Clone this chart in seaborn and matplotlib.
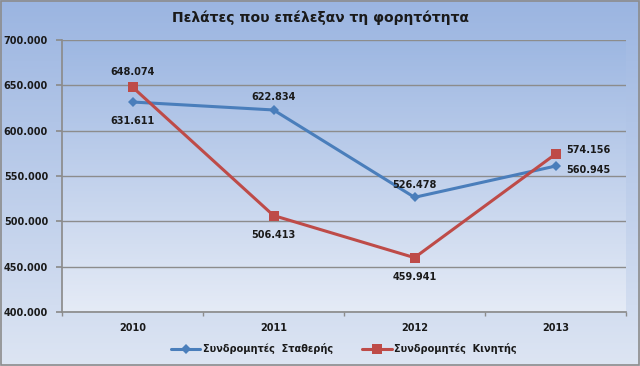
import numpy as np
import pandas as pd
import matplotlib
matplotlib.use("Agg")
import matplotlib.pyplot as plt
from matplotlib.ticker import FuncFormatter, FixedLocator
import seaborn as sns

years = ["2010", "2011", "2012", "2013"]
fixed = [631611, 622834, 526478, 560945]
mobile = [648074, 506413, 459941, 574156]
series_names = ["Συνδρομητές  Σταθερής", "Συνδρομητές  Κινητής"]
title = "Πελάτες που επέλεξαν τη φορητότητα"

df = pd.DataFrame({
    "year": years * 2,
    "value": fixed + mobile,
    "series": [series_names[0]] * 4 + [series_names[1]] * 4,
})

sns.set_theme(style="white")
plt.rcParams['font.family'] = ['DejaVu Sans']

fig = plt.figure(figsize=(6.4, 3.66), dpi=100)

def gradient(top_hex, bot_hex):
    top = np.array([int(top_hex[i:i+2], 16) for i in (1, 3, 5)]) / 255
    bot = np.array([int(bot_hex[i:i+2], 16) for i in (1, 3, 5)]) / 255
    t = np.linspace(0, 1, 256)[:, None]
    return (top[None, :] * (1 - t) + bot[None, :] * t)[:, None, :]

# gradient background over whole figure
bg = fig.add_axes([0, 0, 1, 1], zorder=-10)
bg.imshow(gradient("#9bb5e1", "#dde5f3"), aspect="auto", extent=[0, 1, 0, 1])
bg.set_axis_off()
fig.patches.append(plt.Rectangle((0.001, 0.002), 0.997, 0.995, transform=fig.transFigure,
                                 fill=False, edgecolor="#8c8c8c", linewidth=1.2))

ax = fig.add_axes([62/640, 1 - 312/366, (626-62)/640, (312-40)/366])
ax.patch.set_alpha(0)
ax.imshow(gradient("#9db7e2", "#e5ebf6"), aspect="auto", extent=[0, 1, 0, 1],
          transform=ax.transAxes, zorder=-5)

palette = {series_names[0]: "#4a7ebb", series_names[1]: "#be4b48"}
sns.lineplot(data=df, x="year", y="value", hue="series", style="series",
             markers={series_names[0]: "D", series_names[1]: "s"},
             dashes=False, palette=palette, linewidth=2.2, ax=ax,
             markersize=6, markeredgewidth=0, legend=True, sort=False)
for line in ax.lines:
    if line.get_marker() == "D":
        line.set_markersize(5)
    elif line.get_marker() == "s":
        line.set_markersize(7)

ax.set_ylim(400000, 700000)
ax.set_xlim(-0.5, 3.5)
ax.set_yticks(np.arange(400000, 700001, 50000))
ax.yaxis.set_major_formatter(FuncFormatter(lambda v, p: f"{int(v):,}".replace(",", ".")))
ax.xaxis.set_minor_locator(FixedLocator([-0.5, 0.5, 1.5, 2.5, 3.5]))
ax.grid(axis="y", color="#8c8c8c", linewidth=1)
ax.set_axisbelow(True)
for s in ["top", "right"]:
    ax.spines[s].set_visible(False)
ax.spines["left"].set_color("#8c8c8c")
ax.spines["bottom"].set_color("#8c8c8c")
ax.tick_params(axis="y", length=4, color="#8c8c8c", left=True, labelsize=7, pad=6)
ax.tick_params(axis="x", which="major", length=0, labelsize=7, pad=8)
ax.tick_params(axis="x", which="minor", length=3, color="#8c8c8c", bottom=True)
for lbl in ax.get_xticklabels() + ax.get_yticklabels():
    lbl.set_fontweight("bold")
    lbl.set_color("#1a1a1a")
ax.set_xlabel("")
ax.set_ylabel("")

fmt = lambda v: f"{v:,}".replace(",", ".")
fixed_off = [(0, -14, "center"), (0, 9, "center"), (0, 9, "center"), (8, -3, "left")]
mobile_off = [(0, 11, "center"), (0, -14, "center"), (0, -14, "center"), (8, 3, "left")]
for i in range(4):
    dx, dy, ha = fixed_off[i]
    ax.annotate(fmt(fixed[i]), (i, fixed[i]), xytext=(dx, dy), textcoords="offset points",
                ha=ha, va="center", fontsize=7, fontweight="bold", color="#1a1a1a")
    dx, dy, ha = mobile_off[i]
    ax.annotate(fmt(mobile[i]), (i, mobile[i]), xytext=(dx, dy), textcoords="offset points",
                ha=ha, va="center", fontsize=7, fontweight="bold", color="#1a1a1a")

leg = ax.legend(loc="center", bbox_to_anchor=(0.5, -0.135), ncol=2, frameon=False,
                fontsize=7, handlelength=3, columnspacing=3, handletextpad=0.3)
for txt in leg.get_texts():
    txt.set_fontweight("bold")
    txt.set_color("#1a1a1a")

fig.text(0.5, 1 - 18/366, title, ha="center", va="center", fontsize=10,
         fontweight="bold", color="#1a1a1a")

fig.savefig("out.png", dpi=100)
